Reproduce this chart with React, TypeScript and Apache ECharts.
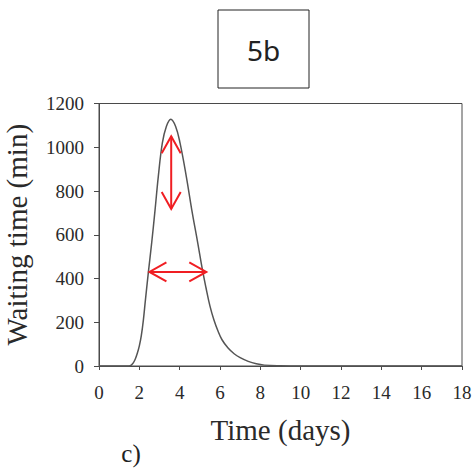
import React, { useEffect, useRef } from "react";
import * as echarts from "echarts";

// Curve: waiting time (min) vs time (days)
const days = [0, 1, 1.5, 1.6, 1.7, 1.8, 1.9, 2.0, 2.1, 2.2, 2.3, 2.45, 2.61, 2.78, 2.94, 3.14, 3.34, 3.56, 3.8, 4.02, 4.33, 4.6, 4.9, 5.13, 5.3, 5.5, 5.7, 5.9, 6.1, 6.4, 6.7, 7.0, 7.4, 7.8, 8.2, 9, 10, 18];
const waiting = [0, 0, 0, 4, 14, 32, 58, 92, 140, 210, 300, 430, 561, 714, 866, 1019, 1095, 1128, 1095, 1019, 866, 714, 561, 439, 360, 275, 210, 160, 120, 82, 56, 38, 21, 10, 4, 1, 0, 0];

// Double-headed red arrows (start x, start y, end x, end y)
const arrowStartX = [3.58, 2.5];
const arrowStartY = [1050, 430];
const arrowEndX = [3.58, 5.32];
const arrowEndY = [718, 430];

const xTitle = "Time (days)";
const yTitle = "Waiting time (min)";
const boxLabel = "5b";
const panelLabel = "c)";

export default function App() {
  const ref = useRef<HTMLDivElement>(null);
  useEffect(() => {
    if (!ref.current) return;
    const chart = echarts.init(ref.current, undefined, { renderer: "svg" });
    const serif = "'Liberation Serif', 'DejaVu Serif', serif";
    const axisColor = "#4a4a4a";
    const labelColor = "#2a2a2a";
    const curve = days.map((d, i) => [d, waiting[i]]);
    const arrows = arrowStartX.map((x, i) => [x, arrowStartY[i], arrowEndX[i], arrowEndY[i]]);
    const L = 17;
    const W = 9.5;
    chart.setOption({
      animation: false,
      backgroundColor: "#fff",
      textStyle: { fontFamily: serif },
      grid: {
        left: 99,
        right: 12,
        top: 103.5,
        bottom: 103,
        containLabel: false,
        outerBoundsMode: "none",
        show: true,
        borderColor: axisColor,
        borderWidth: 1,
        backgroundColor: "transparent",
      },
      xAxis: {
        type: "value",
        min: 0,
        max: 18,
        interval: 2,
        name: xTitle,
        nameLocation: "middle",
        nameGap: 49,
        nameTextStyle: { fontFamily: serif, fontSize: 29, color: labelColor },
        axisLine: { show: true, lineStyle: { color: axisColor, width: 1 } },
        axisTick: { show: true, length: 4, lineStyle: { color: axisColor } },
        axisLabel: {
          fontFamily: serif,
          fontSize: 19,
          color: labelColor,
          margin: 17,
          formatter: (v: number) => String(v),
        },
        splitLine: { show: false },
      },
      yAxis: {
        type: "value",
        min: 0,
        max: 1200,
        interval: 200,
        name: yTitle,
        nameLocation: "middle",
        nameGap: 68,
        nameTextStyle: { fontFamily: serif, fontSize: 29, color: labelColor },
        axisLine: { show: true, lineStyle: { color: axisColor, width: 1 } },
        axisTick: { show: true, length: 5, lineStyle: { color: axisColor } },
        axisLabel: {
          fontFamily: serif,
          fontSize: 19,
          color: labelColor,
          margin: 15,
          formatter: (v: number) => String(v),
        },
        splitLine: { show: false },
      },
      series: [
        {
          type: "line",
          data: curve,
          smooth: 0.4,
          showSymbol: false,
          lineStyle: { color: "#555", width: 1.5 },
          z: 2,
        },
        {
          type: "custom",
          data: arrows,
          encode: { x: [0, 2], y: [1, 3] },
          clip: false,
          z: 3,
          renderItem: (params: any, api: any) => {
            const p1 = api.coord([api.value(0), api.value(1)]);
            const p2 = api.coord([api.value(2), api.value(3)]);
            const dx = p2[0] - p1[0];
            const dy = p2[1] - p1[1];
            const len = Math.sqrt(dx * dx + dy * dy) || 1;
            const ux = dx / len;
            const uy = dy / len;
            const head = (p: number[], dirx: number, diry: number) => [
              [p[0] + dirx * L - diry * W, p[1] + diry * L + dirx * W],
              [p[0], p[1]],
              [p[0] + dirx * L + diry * W, p[1] + diry * L - dirx * W],
            ];
            const style = { stroke: "#f01e23", lineWidth: 2, fill: "none" };
            return {
              type: "group",
              children: [
                { type: "line", shape: { x1: p1[0], y1: p1[1], x2: p2[0], y2: p2[1] }, style },
                { type: "polyline", shape: { points: head(p1, ux, uy) }, style },
                { type: "polyline", shape: { points: head(p2, -ux, -uy) }, style },
              ],
            };
          },
        },
      ],
      graphic: [
        {
          type: "rect",
          shape: { x: 218, y: 10, width: 91, height: 78 },
          style: { fill: "#fff", stroke: "#222", lineWidth: 1 },
        },
        {
          type: "text",
          x: 263.5,
          y: 49.5,
          style: {
            text: boxLabel,
            fontFamily: "Noto Sans",
            fontSize: 28,
            fill: "#222",
            align: "center",
            verticalAlign: "middle",
          },
        },
        {
          type: "text",
          x: 131,
          y: 453,
          style: {
            text: panelLabel,
            fontFamily: serif,
            fontSize: 25,
            fill: "#222",
            align: "center",
            verticalAlign: "middle",
          },
        },
      ],
    });
    return () => chart.dispose();
  }, []);
  return (
    <div
      ref={ref}
      style={{ position: "fixed", left: 0, top: 0, width: 474, height: 469 }}
    />
  );
}
